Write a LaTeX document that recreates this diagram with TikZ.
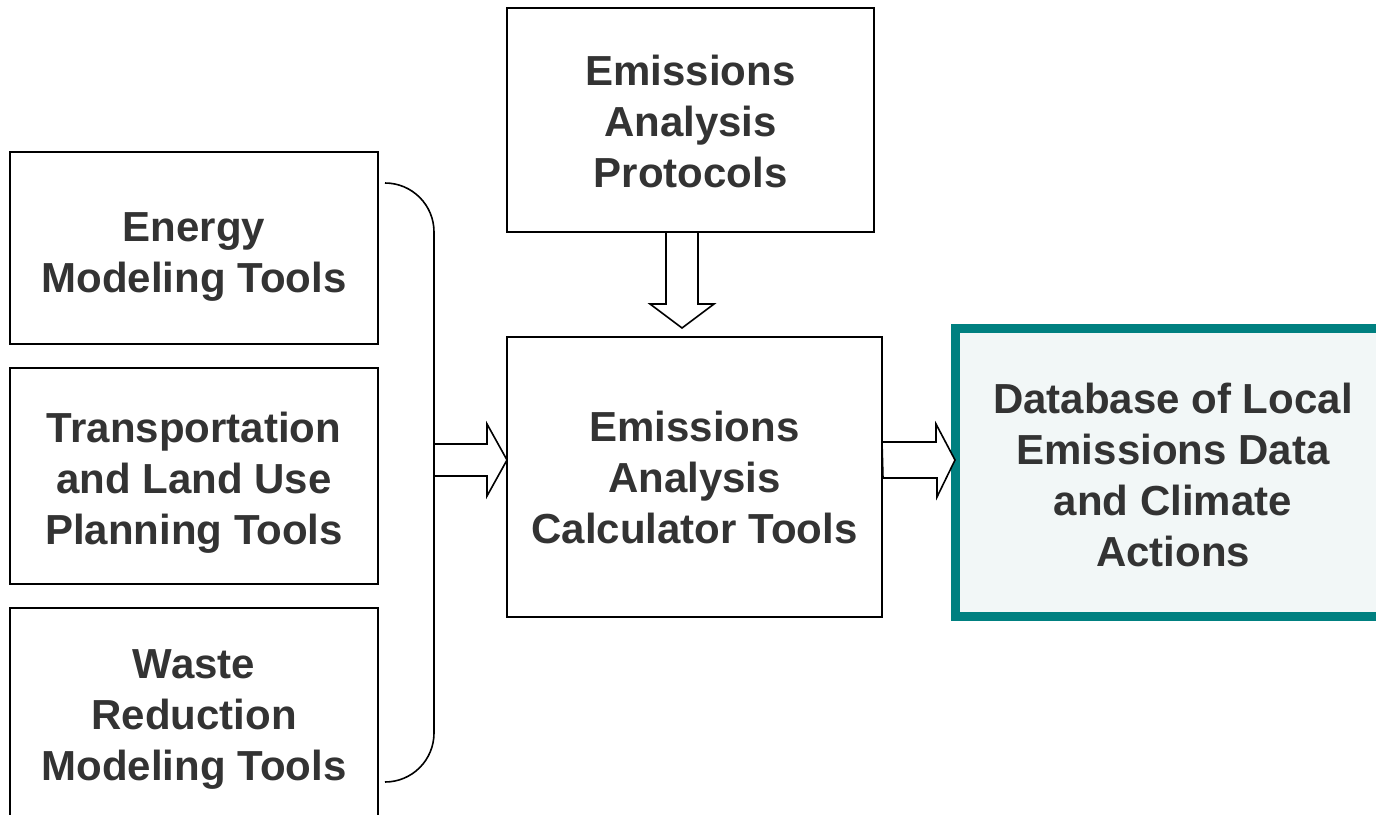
\documentclass[tikz,border=0pt]{standalone}
\usepackage{fontspec}
\setmainfont{Liberation Sans}
\usetikzlibrary{positioning}
\definecolor{tealline}{HTML}{008080}
\definecolor{tealfill}{HTML}{F2F7F7}
\definecolor{txt}{HTML}{333333}
% text set a little below the middle of its box
\newcommand{\lowtext}[2]{\raisebox{-#1}[\height][\depth]{\begin{tabular}{@{}c@{}}#2\end{tabular}}}

\begin{document}
\begin{tikzpicture}[x=1pt, y=-1pt, node distance=24pt, b/.style={draw, line width=1.6pt, outer sep=0pt, align=center, text=txt, font=\fontsize{42}{51}\selectfont\bfseries, minimum width=368pt}, db/.style={b, draw=tealline, line width=9pt, fill=tealfill}, ar/.style={draw, line width=1.6pt, fill=white, line join=miter}]
		\useasboundingbox (0,0) rectangle (1376,814);
		\node[b, minimum height=192pt] (energy) at (194,248) {\lowtext{9pt}{Energy\\Modeling Tools}};
		\node[b, minimum height=216pt, below=of energy] (transport) {\lowtext{7pt}{Transportation\\and Land Use\\Planning Tools}};
		\node[b, minimum height=214pt, below=of transport] (waste) {\lowtext{4pt}{Waste\\Reduction\\Modeling Tools}};
		\node[b, minimum width=367pt, minimum height=224pt] (protocols) at (690.5,120) {\lowtext{6pt}{Emissions\\Analysis\\Protocols}};
		\node[b, minimum width=375pt, minimum height=280pt] (calc) at (694.5,477) {Emissions\\Analysis\\Calculator Tools};
		\node[db, minimum width=436pt, minimum height=288pt] (data) at (1173,472) {\lowtext{8pt}{Database of Local\\Emissions Data\\and Climate\\Actions}};

		\coordinate (brmid) at (434,460);
		\coordinate (dtop) at (682,232);
		\draw[line width=1.6pt, rounded corners=49pt] (385,183) -- (434,183) -- (434,782) -- (385,782);

		\draw[ar] (brmid) ++(0,-16) -- ++(53,0) -- ++(0,-20) -- (brmid -| calc.west) -- ++(-20,36) -- ++(0,-20) -- ++(-53,0) -- cycle;
		\draw[ar] (brmid -| calc.east) ++(0,-18) -- ++(54,0) -- ++(0,-18) -- (brmid -| data.west) -- ++(-18,37) -- ++(0,-19) -- ++(-54,0) -- cycle;
		\draw[ar] (dtop) ++(-16,0) -- ++(0,72) -- ++(-16,0) -- ++(32,24) -- ++(32,-24) -- ++(-16,0) -- ++(0,-72) -- cycle;
	\end{tikzpicture}
\end{document}
